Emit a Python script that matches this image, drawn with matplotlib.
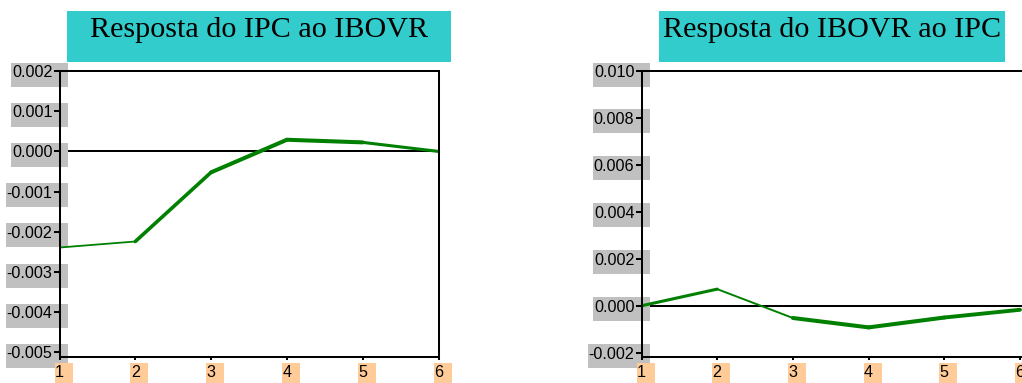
import matplotlib
matplotlib.use('Agg')
import matplotlib.pyplot as plt
from matplotlib.patches import Rectangle
from matplotlib.transforms import IdentityTransform

# ---- data ----
periods = [1, 2, 3, 4, 5, 6]
period_labels = ['1', '2', '3', '4', '5', '6']
ipc_resp = [-0.00239, -0.00224, -0.00052, 0.00029, 0.000225, 0.0]
ibovr_resp = [0.0, 0.00071, -0.00052, -0.00092, -0.00050, -0.00017]
left_yticks = [0.002, 0.001, 0.000, -0.001, -0.002, -0.003, -0.004, -0.005]
left_yticklabels = ['0.002', '0.001', '0.000', '-0.001', '-0.002', '-0.003', '-0.004', '-0.005']
right_yticks = [0.010, 0.008, 0.006, 0.004, 0.002, 0.000, -0.002]
right_yticklabels = ['0.010', '0.008', '0.006', '0.004', '0.002', '0.000', '-0.002']
titles = ['Resposta do IPC ao IBOVR', 'Resposta do IBOVR ao IPC']

# ---- style ----
left_seg_w = [1.3, 2.6, 2.9, 2.9, 2.2]
right_seg_w = [2.2, 1.4, 2.9, 2.9, 2.8]
GREEN = '#008000'
GRAY = '#c0c0c0'
ORANGE = '#ffcc99'
CYAN = '#33cccc'

plt.rcParams['axes.unicode_minus'] = False
plt.rcParams['font.family'] = ['Liberation Sans', 'DejaVu Sans']

W, H = 1022, 383
fig = plt.figure(figsize=(W / 100, H / 100), dpi=100)


def px_axes(x0, x1, ytop, ybot):
    return fig.add_axes([x0 / W, (H - ybot) / H, (x1 - x0) / W, (ybot - ytop) / H])


def setup(ax, vals, widths, yticks, ylabels, ylim, xlim, right_spine):
    ax.set_xlim(*xlim)
    ax.set_ylim(*ylim)
    ax.axhline(0, color='black', lw=1.45, zorder=1)
    for i in range(len(vals) - 1):
        ax.plot(periods[i:i + 2], vals[i:i + 2], color=GREEN, lw=widths[i],
                solid_capstyle='round', zorder=2)
    ax.set_yticks(yticks)
    ax.set_yticklabels(ylabels)
    ax.set_xticks(periods)
    ax.set_xticklabels(period_labels)
    for s in ax.spines.values():
        s.set_linewidth(1.45)
        s.set_zorder(2.5)
    ax.spines['right'].set_visible(right_spine)
    ax.tick_params(axis='y', direction='out', length=4.3, width=1.45, pad=0.8,
                   labelsize=11.6, colors='black')
    ax.tick_params(axis='x', direction='out', length=2.2, width=1.45, pad=4.0,
                   labelsize=11.6, colors='black')


axL = px_axes(59.5, 438.5, 71, 356.5)
setup(axL, ipc_resp, left_seg_w, left_yticks, left_yticklabels,
      (-0.0051, 0.002), (1, 6), True)
axR = px_axes(641.5, 1022.5, 71, 356.5)
setup(axR, ibovr_resp, right_seg_w, right_yticks, right_yticklabels,
      (-0.00216, 0.010), (1, 6.033), False)

fig.canvas.draw()
renderer = fig.canvas.get_renderer()

for ax, title, (bx0, bx1) in [(axL, titles[0], (67, 451)), (axR, titles[1], (659, 1005))]:
    axbox = ax.get_window_extent(renderer)
    # y tick label boxes
    for lab, yv in zip(ax.get_yticklabels(), ax.get_yticks()):
        bb = lab.get_window_extent(renderer)
        ydisp = ax.transData.transform((ax.get_xlim()[0], yv))[1]
        x0 = bb.x0 - 0.5
        x1 = axbox.x0 + 8
        r = Rectangle((x0, ydisp - 15.5), x1 - x0, 24, transform=IdentityTransform(),
                      facecolor=GRAY, edgecolor='none', clip_on=False, zorder=1.5)
        ax.add_artist(r)
    # x tick label boxes
    for xv in ax.get_xticks():
        xdisp = ax.transData.transform((xv, 0))[0]
        r = Rectangle((xdisp - 5, 0), 18, 20, transform=IdentityTransform(),
                      facecolor=ORANGE, edgecolor='none', clip_on=False, zorder=1.5)
        ax.add_artist(r)
    # title box
    r = Rectangle((bx0, H - 62), bx1 - bx0, 51, transform=IdentityTransform(),
                  facecolor=CYAN, edgecolor='none', clip_on=False, zorder=0)
    fig.add_artist(r)
    cx = (bx0 + bx1) / 2
    fig.text(cx / W, (H - 37) / H, title, ha='center', va='baseline',
             fontsize=21.7, family='Liberation Serif', color='black', zorder=3)

fig.savefig('out.png', dpi=100)
